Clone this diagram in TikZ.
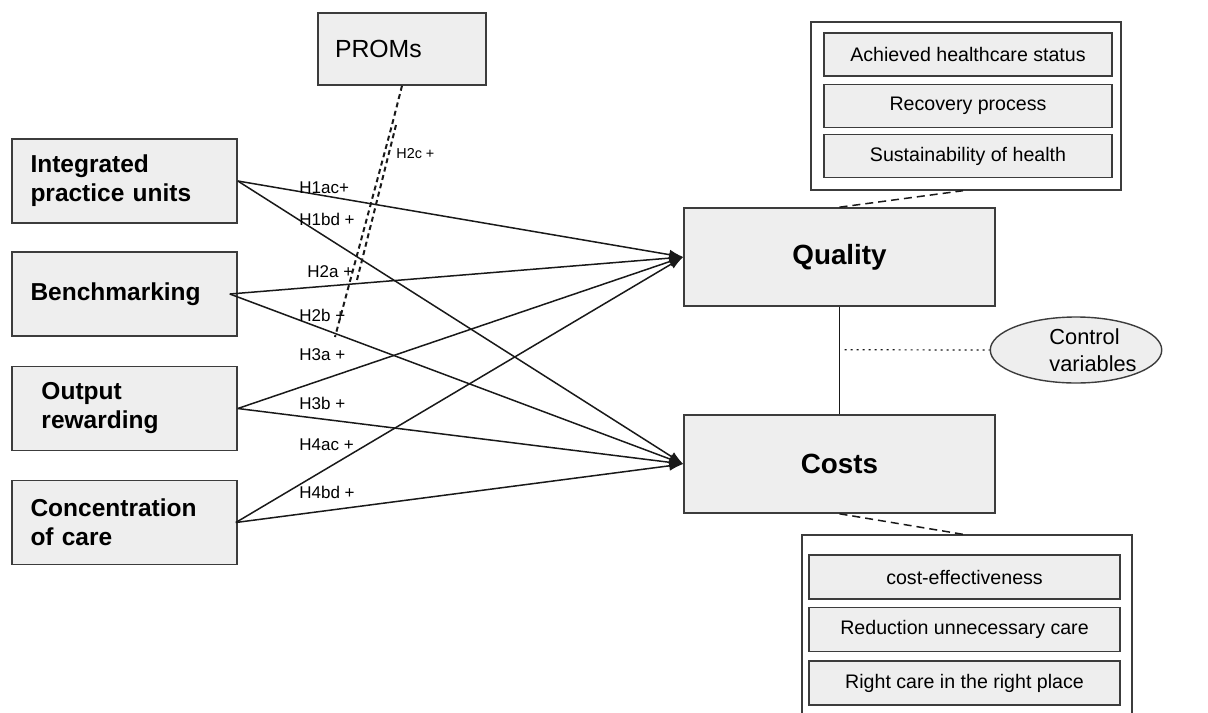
\documentclass[tikz,border=0pt]{standalone}
\usepackage{fontspec}
\setmainfont{Liberation Sans}
\usepackage{xcolor}
\definecolor{BoxFill}{RGB}{238,238,238}
\definecolor{BoxBorder}{RGB}{60,60,60}
\definecolor{LinkColor}{RGB}{25,25,25}
\usepackage{tikz}
\usetikzlibrary{
  positioning,
  arrows.meta,
  shapes.geometric
}
\tikzset{
  % Construct box on the left
  construct/.style={
    rectangle,
    draw=BoxBorder,
    fill=BoxFill,
    line width=0.8pt,
    minimum width=112.5pt,
    minimum height=42pt,
    text width=94pt,
    inner xsep=9pt,
    align=left,
    font=\fontsize{12.25}{14.5}\selectfont\bfseries
  },
  % Outcome box (quality, costs)
  outcome/.style={
    rectangle,
    draw=BoxBorder,
    fill=BoxFill,
    line width=0.8pt,
    minimum width=155.5pt,
    minimum height=49pt,
    font=\fontsize{13.9}{16}\selectfont\bfseries
  },
  % Moderator box
  modbox/.style={
    rectangle,
    draw=BoxBorder,
    fill=BoxFill,
    line width=0.8pt,
    minimum width=84pt,
    minimum height=36pt,
    text width=67pt,
    inner xsep=8.5pt,
    align=left,
    font=\fontsize{12.4}{14}\selectfont
  },
  % White frame round the indicators
  frame/.style={
    rectangle,
    draw=BoxBorder,
    fill=white,
    line width=0.7pt
  },
  % Indicator inside a frame
  indicator/.style={
    rectangle,
    draw=BoxBorder,
    fill=BoxFill,
    line width=0.8pt,
    minimum height=21.5pt,
    font=\fontsize{9.8}{12}\selectfont
  },
  % Control variables
  ctrlnode/.style={
    ellipse,
    draw=BoxBorder,
    fill=BoxFill,
    line width=0.7pt,
    minimum width=74pt,
    minimum height=33pt,
    inner sep=0pt,
    align=left,
    font=\fontsize{10.9}{13.5}\selectfont
  },
  % Hypothesis path
  link/.style={
    draw=LinkColor,
    line width=0.75pt,
    -{Latex[length=7pt,width=5pt]}
  },
  % Plain solid line
  plain/.style={draw=LinkColor, line width=0.75pt},
  % Moderating effect
  moderator/.style={
    draw=LinkColor,
    line width=1pt,
    dash pattern=on 2.5pt off 1.8pt
  },
  % Measurement lines
  measure/.style={
    draw=LinkColor,
    line width=0.75pt,
    dash pattern=on 4pt off 2.5pt
  },
  % Control effect
  ctrl/.style={
    draw=LinkColor,
    line width=0.6pt,
    dash pattern=on 1pt off 2pt
  },
  % Hypothesis label
  hyp/.style={
    anchor=west,
    inner sep=0pt,
    font=\fontsize{8.5}{10}\selectfont
  }
}

\begin{document}
\begin{tikzpicture}[x=0.5pt, y=-0.5pt]
  \clip (0,0) rectangle (1208,712);

  % constructs
  \node[construct] (ipu)   at (124.5,181)   {Integrated\\practice units};
  \node[construct] (bench) at (124.5,294)   {Benchmarking};
  \node[construct] (outp)  at (124.5,408.5) {\hspace*{5.5pt}Output\\\hspace*{5.5pt}rewarding};
  \node[construct] (conc)  at (124.5,522.5) {Concentration\\of care};
  \node[modbox]    (proms) at (402,49)      {PROMs};

  \node[outcome] (quality) at (839.5,257) {Quality};
  \node[outcome] (costs)   at (839.5,464) {Costs};

  % quality indicators
  \node[frame, minimum width=155pt, minimum height=84pt] (qframe) at (966,106) {};
  \node[indicator, minimum width=144pt] (q1) at (968,54.5) {Achieved healthcare status};
  \node[indicator, minimum width=144pt] (q2) at (968,106)  {Recovery process};
  \node[indicator, minimum width=144pt] (q3) at (968,156)  {Sustainability of health};

  % cost indicators
  \node[frame, minimum width=165pt, minimum height=112.5pt] (cframe) at (967,647.5) {};
  \node[indicator, minimum width=155.5pt, minimum height=22pt] (c1) at (964.5,577)   {cost-effectiveness};
  \node[indicator, minimum width=155.5pt, minimum height=22pt] (c2) at (964.5,629.5) {Reduction unnecessary care};
  \node[indicator, minimum width=155.5pt, minimum height=22pt] (c3) at (964.5,683)   {Right care in the right place};

  \node[ctrlnode] (control) at (1076,350) {\hspace*{17pt}Control\\\hspace*{17pt}variables};

  % hypotheses
  \draw[link] (ipu.east) -- (quality.west);
  \draw[link] (ipu.east) -- (costs.west);
  \draw[link] ([xshift=-4pt]bench.east) -- (quality.west);
  \draw[link] ([xshift=-4pt]bench.east) -- (costs.west);
  \draw[link] (outp.east) -- (quality.west);
  \draw[link] (outp.east) -- (costs.west);
  \draw[link] ([xshift=-1pt]conc.east) -- (quality.west);
  \draw[link] ([xshift=-1pt]conc.east) -- (costs.west);

  \node[hyp] (h1ac) at (299,188) {H1ac+};
  \node[hyp] (h1bd) at (299,219) {H1bd +};
  \node[hyp] (h2a)  at (307,272) {H2a +};
  \node[hyp] (h2b)  at (299,315) {H2b +};
  \node[hyp] (h3a)  at (299,355) {H3a +};
  \node[hyp] (h3b)  at (299,403) {H3b +};
  \node[hyp] (h4ac) at (299,445) {H4ac +};
  \node[hyp] (h4bd) at (299,492) {H4bd +};
  \node[hyp, font=\fontsize{7.2}{9}\selectfont] (h2c) at (396,154) {H2c +};

  % moderation by PROMs
  \coordinate (split)  at (392,125);
  \coordinate (promsA) at (335,337);
  \coordinate (promsB) at (357,280);
  \draw[moderator] (proms.south) -- (split) -- (promsA);
  \draw[moderator] ([xshift=2pt]split) -- (promsB);

  % quality -- costs and control variables
  \draw[plain] (quality.south) -- coordinate[pos=0.4] (qc) (costs.north);
  \draw[ctrl] ([xshift=2.5pt]qc) -- (control.west);

  % measurement
  \draw[measure] (quality.north) -- ([xshift=-1.5pt]qframe.south);
  \draw[measure] (costs.south) -- ([xshift=-2pt]cframe.north);
\end{tikzpicture}
\end{document}
